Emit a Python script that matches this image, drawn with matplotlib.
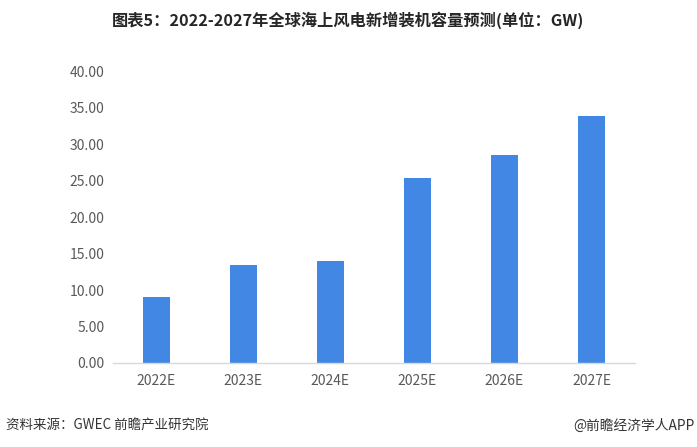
import matplotlib
matplotlib.use("Agg")
import matplotlib.pyplot as plt

plt.rcParams['font.family'] = ['Noto Sans CJK SC', 'DejaVu Sans']

categories = ["2022E", "2023E", "2024E", "2025E", "2026E", "2027E"]
values = [9.1, 13.5, 14.0, 25.4, 28.5, 33.9]
yticks = [0, 5, 10, 15, 20, 25, 30, 35, 40]

fig = plt.figure(figsize=(6.97, 4.47), dpi=100)
ax = fig.add_axes([0.162, 0.188, 0.749, 0.652])
ax.bar(range(len(categories)), values, width=0.31, color="#4287E4", zorder=2)
ax.set_xlim(-0.5, len(categories) - 0.5)
ax.set_ylim(0, 40)
ax.set_yticks(yticks)
ax.set_yticklabels([f"{v:.2f}" for v in yticks])
ax.set_xticks(range(len(categories)))
ax.set_xticklabels(categories)
for s in ["top", "right", "left"]:
    ax.spines[s].set_visible(False)
ax.spines["bottom"].set_color("#d9d9d9")
ax.spines["bottom"].set_linewidth(1.0)
ax.tick_params(axis="both", length=0, labelsize=10, colors="#595959")
ax.tick_params(axis="x", pad=8)
ax.tick_params(axis="y", pad=6)

fig.text(0.5, 0.955, "图表5：2022-2027年全球海上风电新增装机容量预测(单位：GW)",
         ha="center", va="center", fontsize=11.7, fontweight="bold", color="#262626")
fig.text(0.008, 0.048, "资料来源：GWEC 前瞻产业研究院", ha="left", va="center",
         fontsize=9.7, color="#333333")
fig.text(0.997, 0.048, "@前瞻经济学人APP", ha="right", va="center",
         fontsize=9.9, color="#333333")

fig.savefig("out.png", dpi=100)
